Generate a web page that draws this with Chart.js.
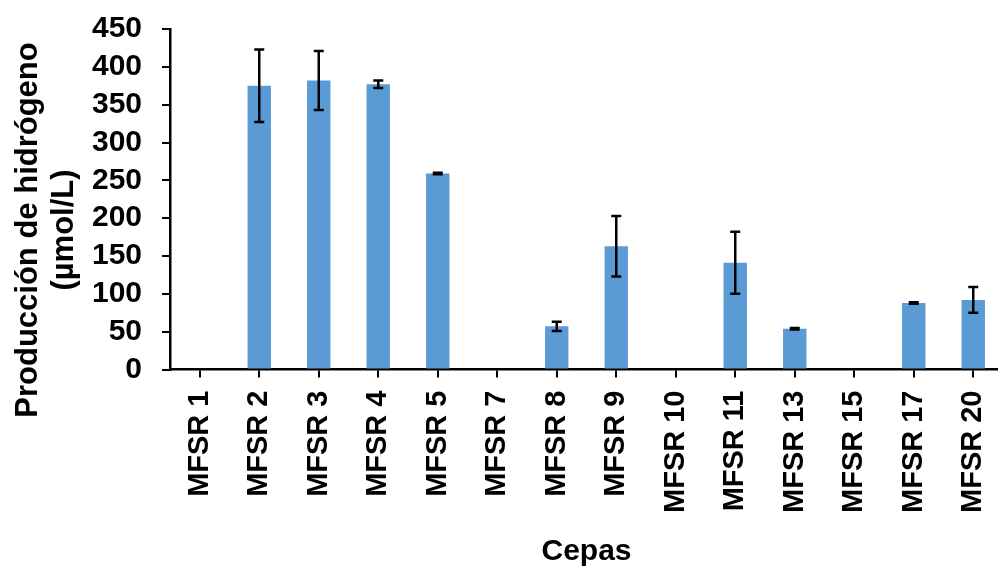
<!DOCTYPE html>
<html>
<head>
<meta charset="utf-8">
<script src="https://cdn.jsdelivr.net/npm/chart.js@4"></script>
<style>
  html, body { margin: 0; padding: 0; overflow: hidden; background: #fff; }
  #wrap { position: absolute; left: 0; top: 0; width: 1004px; height: 568px; }
</style>
</head>
<body>
<div id="wrap"><canvas id="barras" width="1004" height="568"></canvas></div>
<script>
const cepas = ["MFSR 1", "MFSR 2", "MFSR 3", "MFSR 4", "MFSR 5", "MFSR 7", "MFSR 8",
               "MFSR 9", "MFSR 10", "MFSR 11", "MFSR 13", "MFSR 15", "MFSR 17", "MFSR 20"];
const produccion = [0, 375, 382, 377, 259, 0, 57, 163, 0, 141, 54, 0, 88, 92];
const errores = [0, 48, 39, 5, 1, 0, 6, 40, 0, 41, 1, 0, 1, 17];
const yTitulo = ["Producción de hidrógeno", "(µmol/L)"];

const fuente = '"Liberation Sans", Arial, sans-serif';

// error bars drawn from the y scale
const barrasError = {
    id: 'barrasError',
    afterDatasetsDraw(chart) {
        const ctx = chart.ctx;
        const y = chart.scales.y;
        const meta = chart.getDatasetMeta(0);
        ctx.save();
        ctx.strokeStyle = '#000';
        ctx.lineWidth = 2.5;
        meta.data.forEach((bar, i) => {
            if (!produccion[i]) return;
            const top = y.getPixelForValue(produccion[i] + errores[i]);
            const bot = y.getPixelForValue(produccion[i] - errores[i]);
            ctx.beginPath();
            ctx.moveTo(bar.x, top); ctx.lineTo(bar.x, bot);
            ctx.moveTo(bar.x - 5, top); ctx.lineTo(bar.x + 5, top);
            ctx.moveTo(bar.x - 5, bot); ctx.lineTo(bar.x + 5, bot);
            ctx.stroke();
        });
        ctx.restore();
    }
};

// y title sits lower than the axis centre in the original
const tituloY = {
    id: 'tituloY',
    afterDraw(chart) {
        const ctx = chart.ctx;
        ctx.save();
        ctx.fillStyle = '#000';
        ctx.font = 'bold 31px ' + fuente;
        ctx.textAlign = 'center';
        ctx.textBaseline = 'middle';
        ctx.translate(28, 230);
        ctx.rotate(-Math.PI / 2);
        ctx.fillText(yTitulo[0], 0, 0);
        ctx.fillText(yTitulo[1], 0, 36);
        ctx.restore();
    }
};

let bar = new Chart(document.getElementById("barras"), {
    type: 'bar',
    data: {
        labels: cepas,
        datasets: [
            {
                data: produccion,
                backgroundColor: "#5B9BD5",
                barPercentage: 0.393,
                categoryPercentage: 1
            }
        ]
    },
    options: {
        responsive: false,
        animation: false,
        layout: {
            padding: { top: 29, right: 1, left: 0, bottom: 0 }
        },
        plugins: {
            legend: { display: false },
            tooltip: { enabled: false }
        },
        scales: {
            x: {
                grid: {
                    offset: false,
                    drawOnChartArea: false,
                    color: '#000',
                    lineWidth: 2,
                    tickLength: 8
                },
                border: { color: '#000', width: 2.5 },
                ticks: {
                    color: '#000',
                    autoSkip: false,
                    maxRotation: 90,
                    minRotation: 90,
                    padding: 13,
                    font: { family: fuente, size: 29, weight: 'bold' }
                },
                title: {
                    display: true,
                    text: 'Cepas',
                    color: '#000',
                    padding: 0,
                    font: { family: fuente, size: 30, weight: 'bold', lineHeight: 1.1 }
                },
                afterFit(scale) {
                    scale.height = 198.5;
                    scale.paddingLeft = 0;
                    scale.paddingRight = 0;
                }
            },
            y: {
                min: 0,
                max: 450,
                grid: {
                    drawOnChartArea: false,
                    color: '#000',
                    lineWidth: 2,
                    tickLength: 8
                },
                border: { color: '#000', width: 2.5 },
                ticks: {
                    stepSize: 50,
                    autoSkip: false,
                    color: '#000',
                    padding: 20,
                    font: { family: fuente, size: 30, weight: 'bold', lineHeight: 1 }
                },
                afterFit(scale) {
                    scale.width = 170;
                    scale.paddingTop = 0;
                    scale.paddingBottom = 0;
                }
            }
        }
    },
    plugins: [barrasError, tituloY]
});
</script>
</body>
</html>
